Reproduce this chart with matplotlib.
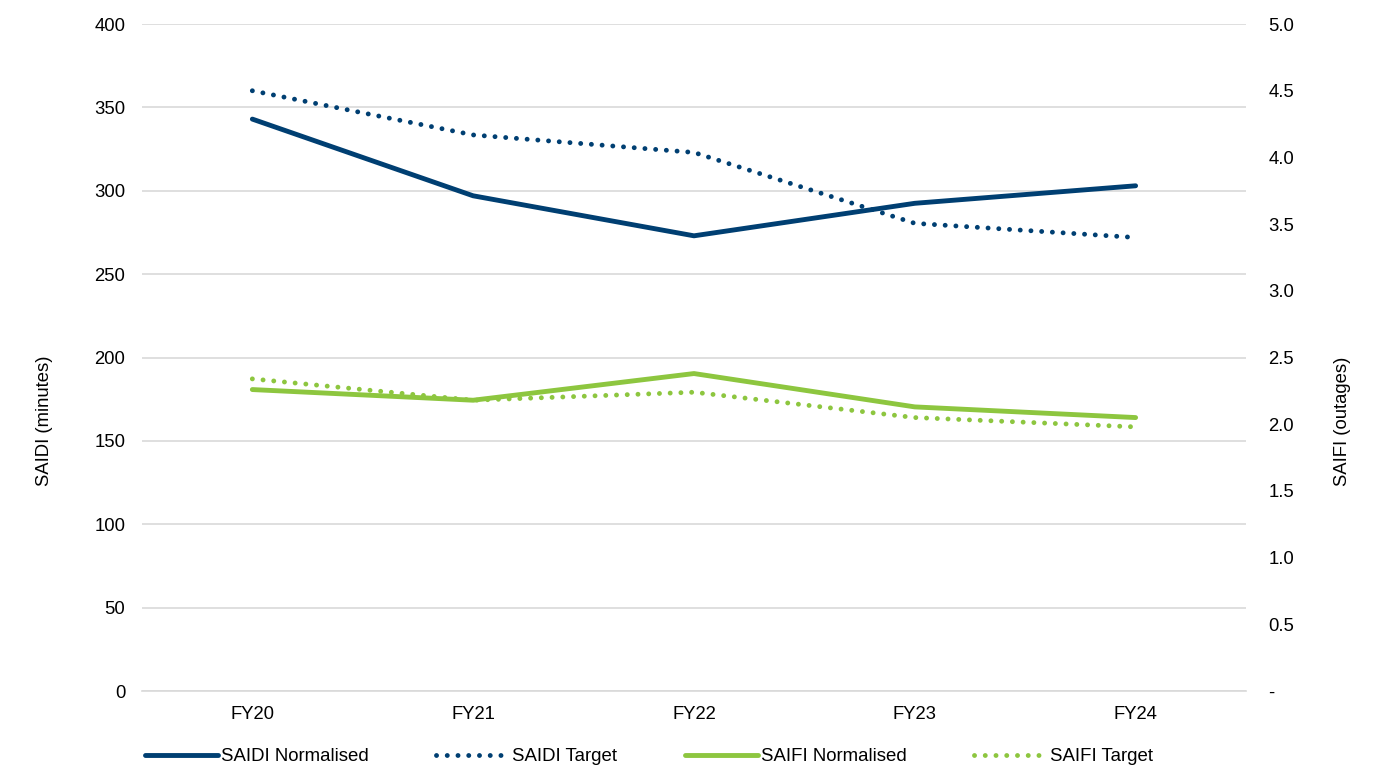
import matplotlib

matplotlib.use("Agg")
import matplotlib.pyplot as plt
from matplotlib.ticker import FuncFormatter, MultipleLocator

plt.rcParams["font.family"] = ["Liberation Sans", "DejaVu Sans"]

YEARS = ["FY20", "FY21", "FY22", "FY23", "FY24"]
SAIDI_NORM = [343, 297, 273, 292.5, 303]
SAIDI_TARGET = [360, 333.5, 323, 280.5, 272]
SAIFI_NORM = [2.26, 2.18, 2.38, 2.13, 2.05]
SAIFI_TARGET = [2.34, 2.18, 2.24, 2.05, 1.98]

NAVY = "#003f72"
GREEN = "#8dc63f"
GRID = "#d9d9d9"
LW = 3.5
DOTS = (0, (0.01, 2.2))


def main():
    fig = plt.figure(figsize=(13.82, 7.76), dpi=100)
    ax = fig.add_axes([0.1027, 0.1095, 0.7989, 0.8595])
    ax2 = ax.twinx()
    x = list(range(len(YEARS)))

    ax.plot(x, SAIDI_NORM, color=NAVY, lw=LW, solid_capstyle="round",
            label="SAIDI Normalised", zorder=3)
    ax.plot(x, SAIDI_TARGET, color=NAVY, lw=LW, ls=DOTS, dash_capstyle="round",
            label="SAIDI Target", zorder=3)
    ax2.plot(x, SAIFI_NORM, color=GREEN, lw=LW, solid_capstyle="round",
             label="SAIFI Normalised")
    ax2.plot(x, SAIFI_TARGET, color=GREEN, lw=LW, ls=DOTS, dash_capstyle="round",
             label="SAIFI Target")

    ax.set_xlim(-0.5, len(YEARS) - 0.5)
    ax.set_ylim(0, 400)
    ax2.set_ylim(0, 5)
    ax.yaxis.set_major_locator(MultipleLocator(50))
    ax2.yaxis.set_major_locator(MultipleLocator(0.5))
    ax2.yaxis.set_major_formatter(
        FuncFormatter(lambda v, _: "-" if abs(v) < 1e-9 else f"{v:.1f}"))
    ax.grid(axis="y", color=GRID, lw=1.2)
    ax.set_axisbelow(True)

    for a in (ax, ax2):
        for s in a.spines.values():
            s.set_visible(False)
        a.tick_params(length=0, labelsize=13.3, colors="#000000")
    ax.spines["bottom"].set_visible(True)
    ax.spines["bottom"].set_color(GRID)
    ax.spines["bottom"].set_linewidth(1.2)

    ax.set_xticks(x)
    ax.set_xticklabels(YEARS)
    ax.tick_params(axis="x", pad=11)
    ax.tick_params(axis="y", pad=12)
    ax2.tick_params(axis="y", pad=16)
    ax.set_ylabel("SAIDI (minutes)", fontsize=13.3)
    ax2.set_ylabel("SAIFI (outages)", fontsize=13.3)
    ax.yaxis.set_label_coords(-0.0806, 0.405)
    ax2.yaxis.set_label_coords(1.0797, 0.405)

    h1, l1 = ax.get_legend_handles_labels()
    h2, l2 = ax2.get_legend_handles_labels()
    fig.legend(h1 + h2, l1 + l2, loc="center", bbox_to_anchor=(0.4696, 0.025),
               ncol=4, frameon=False, fontsize=13.4, handlelength=3.9,
               handletextpad=0.16, columnspacing=3.65)

    fig.savefig("out.png", dpi=100)
    plt.close(fig)


if __name__ == "__main__":
    main()
